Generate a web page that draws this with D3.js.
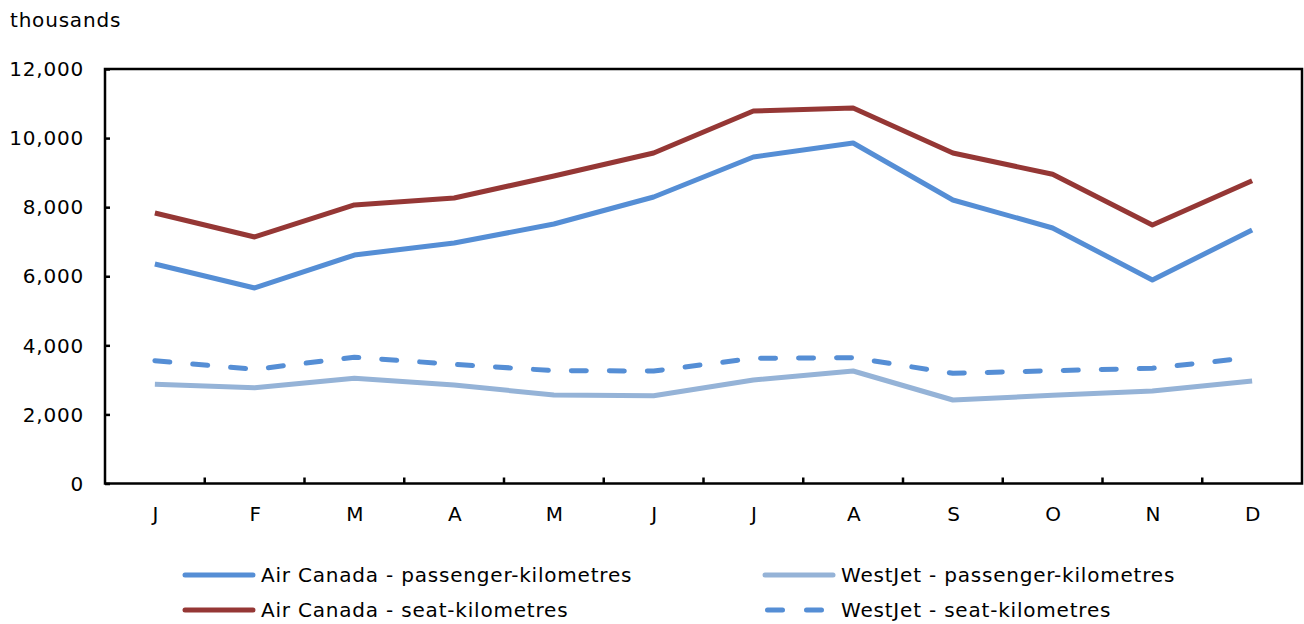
<!DOCTYPE html>
<html>
<head>
<meta charset="utf-8">
<script src="https://cdn.jsdelivr.net/npm/d3@7"></script>
<style>
  body { margin: 0; background: #fff; }
  svg text { font-family: "DejaVu Sans", Verdana, sans-serif; fill: #000; letter-spacing: 0.8px; }
</style>
</head>
<body>
<svg width="1304" height="624"></svg>
<script>
// months and series (thousands)
var months = ["J", "F", "M", "A", "M", "J", "J", "A", "S", "O", "N", "D"]
var acPassenger = [6355, 5660, 6615, 6963, 7513, 8295, 9453, 9858, 8208, 7397, 5892, 7339]
var acSeat = [7832, 7137, 8063, 8266, 8903, 9569, 10785, 10872, 9569, 8952, 7484, 8767]
var wjPassenger = [2872, 2774, 3046, 2852, 2562, 2542, 2997, 3257, 2417, 2553, 2678, 2968]
var wjSeat = [3555, 3306, 3654, 3451, 3266, 3257, 3625, 3642, 3190, 3266, 3335, 3654]
var yTicks = [0, 2000, 4000, 6000, 8000, 10000, 12000]

var series = [
  {name: "Air Canada - passenger-kilometres", values: acPassenger, color: "#558ed5", dash: null},
  {name: "Air Canada - seat-kilometres", values: acSeat, color: "#953735", dash: null},
  {name: "WestJet - passenger-kilometres", values: wjPassenger, color: "#95b3d7", dash: null},
  {name: "WestJet - seat-kilometres", values: wjSeat, color: "#558ed5", dash: "15,23"}
]

var svg = d3.select("svg"),
  margin = {top: 69, right: 2, bottom: 140.5, left: 105},
  width = +svg.attr("width") - margin.left - margin.right,
  height = +svg.attr("height") - margin.top - margin.bottom,
  g = svg.append("g").attr("transform", "translate(" + margin.left + "," + margin.top + ")")

// index band so repeated month letters stay distinct
var x = d3.scaleBand().domain(d3.range(months.length)).range([0, width])
var y = d3.scaleLinear().domain([0, 12000]).range([height, 0])

svg.append("text")
  .attr("x", 10).attr("y", 27)
  .attr("font-size", 20)
  .text("thousands")

// y axis labels + inner ticks
var yAxis = g.append("g")
  .call(d3.axisRight(y).tickValues(yTicks).tickSize(5).tickFormat(""))
yAxis.select(".domain").remove()
yAxis.selectAll("line").attr("stroke", "#000").attr("stroke-width", 2.5)

g.selectAll(".ylab")
  .data(yTicks)
  .enter().append("text")
    .attr("class", "ylab")
    .attr("x", -21)
    .attr("y", function (d) { return y(d) })
    .attr("dy", "0.36em")
    .attr("text-anchor", "end")
    .attr("font-size", 20)
    .text(d3.format(","))

// x ticks at band edges, pointing up
var edges = d3.range(1, months.length)
g.selectAll(".xtick")
  .data(edges)
  .enter().append("line")
    .attr("x1", function (i) { return x(i) })
    .attr("x2", function (i) { return x(i) })
    .attr("y1", height)
    .attr("y2", height - 6)
    .attr("stroke", "#000")
    .attr("stroke-width", 2.5)

g.selectAll(".xlab")
  .data(months)
  .enter().append("text")
    .attr("x", function (d, i) { return x(i) + x.bandwidth() / 2 + 1 })
    .attr("y", height + 37)
    .attr("text-anchor", "middle")
    .attr("font-size", 20)
    .text(function (d) { return d })

// frame
g.append("rect")
  .attr("width", width).attr("height", height)
  .attr("fill", "none")
  .attr("stroke", "#000")
  .attr("stroke-width", 2.5)

var line = d3.line()
  .x(function (d, i) { return x(i) + x.bandwidth() / 2 })
  .y(function (d) { return y(d) })

// draw order: light lines first
var drawOrder = [2, 3, 0, 1]
drawOrder.forEach(function (k) {
  var s = series[k]
  g.append("path")
    .datum(s.values)
    .attr("d", line)
    .attr("fill", "none")
    .attr("stroke", s.color)
    .attr("stroke-width", 5)
    .attr("stroke-linejoin", "round")
    .attr("stroke-linecap", s.dash ? "round" : "butt")
    .attr("stroke-dasharray", s.dash)
})

// legend
var legendPos = [
  {x: 185, y: 575}, {x: 185, y: 610}, {x: 765, y: 575}, {x: 765, y: 610}
]
var legend = svg.append("g")
var items = legend.selectAll("g")
  .data(series)
  .enter().append("g")
    .attr("transform", function (d, i) { return "translate(" + legendPos[i].x + "," + legendPos[i].y + ")" })

items.append("line")
  .attr("x1", function (d) { return d.dash ? 2.5 : 0 })
  .attr("x2", 68)
  .attr("stroke", function (d) { return d.color })
  .attr("stroke-width", 5)
  .attr("stroke-linecap", "round")
  .attr("stroke-dasharray", function (d) { return d.dash ? "15,24" : null })

items.append("text")
  .attr("x", 76)
  .attr("dy", "0.36em")
  .attr("font-size", 20)
  .text(function (d) { return d.name })
</script>
</body>
</html>
